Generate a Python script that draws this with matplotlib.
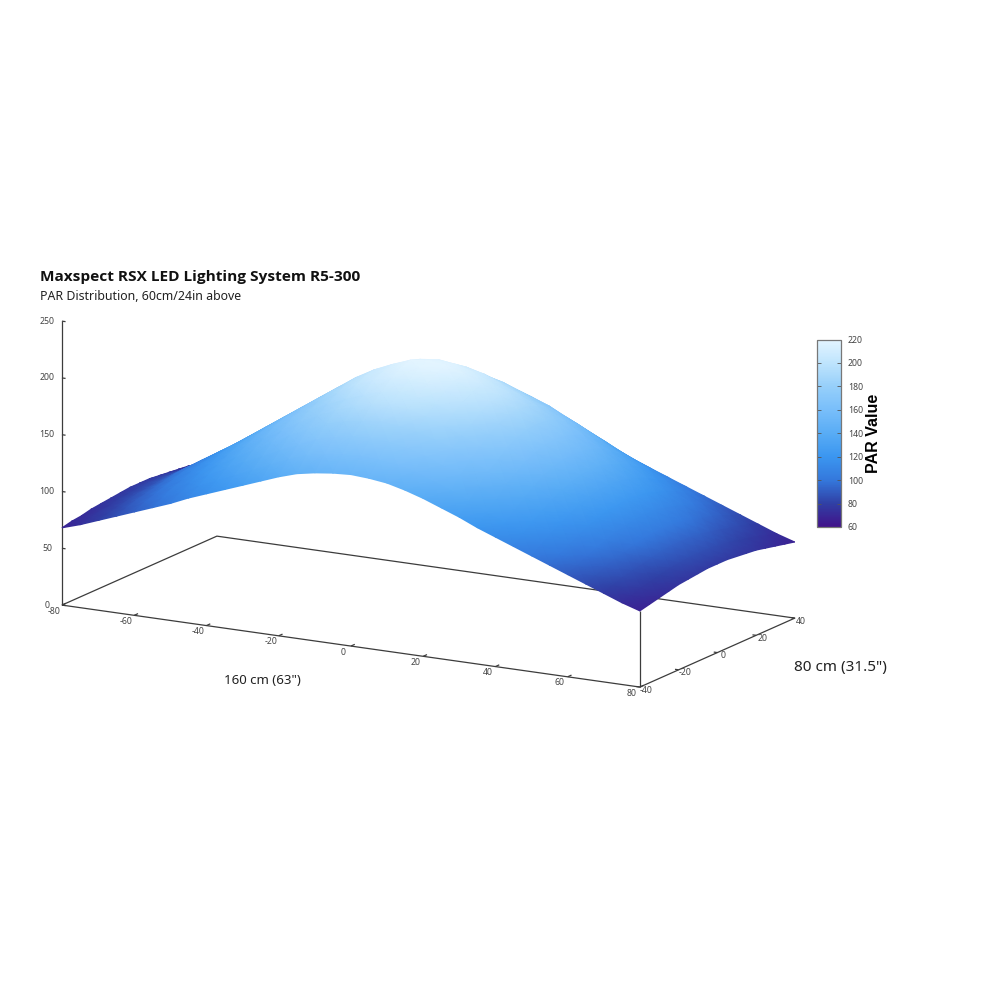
import numpy as np
import matplotlib
matplotlib.use('Agg')
import matplotlib.pyplot as plt
from matplotlib.colors import LinearSegmentedColormap
from matplotlib.cm import ScalarMappable
from matplotlib.colors import Normalize
from mpl_toolkits.mplot3d import proj3d

# PAR readings every 5 cm, the field is mirrored front to back
x_cm = [-80, -75, -70, -65, -60, -55, -50, -45, -40, -35, -30, -25, -20, -15, -10, -5, 0,
        5, 10, 15, 20, 25, 30, 35, 40, 45, 50, 55, 60, 65, 70, 75, 80]
y_cm = [40, 35, 30, 25, 20, 15, 10, 5, 0, -5, -10, -15, -20, -25, -30, -35, -40]
row_40 = [68, 73, 79, 85, 91, 97, 103, 110, 116, 122, 128, 134, 140, 145, 148, 150, 151,
          150, 148, 144, 139, 133, 127, 120, 114, 108, 102, 96, 90, 84, 78, 72, 67]
row_35 = [70, 75, 81, 88, 95, 101, 108, 116, 123, 130, 137, 144, 151, 157, 160, 162, 163,
          162, 160, 156, 150, 144, 137, 129, 122, 115, 108, 101, 94, 87, 81, 74, 69]
row_30 = [71, 77, 83, 91, 98, 106, 113, 122, 130, 138, 145, 153, 160, 167, 171, 174, 175,
          174, 171, 166, 160, 154, 146, 137, 130, 122, 114, 106, 98, 91, 84, 77, 71]
row_25 = [73, 78, 85, 93, 101, 109, 118, 127, 136, 145, 154, 162, 170, 177, 181, 184, 186,
          184, 181, 177, 171, 163, 155, 146, 137, 128, 119, 111, 102, 94, 86, 79, 73]
row_20 = [74, 80, 87, 95, 104, 113, 122, 132, 142, 151, 160, 170, 178, 185, 191, 195, 197,
          195, 191, 185, 178, 171, 162, 152, 143, 134, 124, 115, 105, 96, 88, 81, 75]
row_15 = [75, 81, 88, 97, 107, 116, 126, 136, 147, 157, 167, 177, 184, 191, 197, 202, 204,
          202, 198, 192, 185, 178, 169, 159, 149, 138, 128, 118, 108, 99, 90, 83, 76]
row_10 = [76, 82, 89, 99, 108, 118, 129, 139, 150, 161, 171, 181, 190, 199, 206, 210, 211,
          210, 206, 199, 192, 184, 174, 163, 153, 142, 131, 121, 110, 101, 92, 84, 77]
row_05 = [77, 83, 90, 100, 110, 120, 130, 141, 152, 163, 174, 185, 195, 204, 210, 216, 218,
          216, 211, 204, 197, 188, 177, 166, 155, 144, 133, 122, 112, 102, 93, 85, 78]
row_00 = [77, 83, 90, 100, 110, 120, 131, 142, 153, 164, 175, 186, 197, 206, 213, 219, 221,
          219, 214, 207, 199, 189, 178, 167, 156, 145, 134, 123, 112, 102, 93, 85, 78]
par = [row_40, row_35, row_30, row_25, row_20, row_15, row_10, row_05, row_00,
       row_05, row_10, row_15, row_20, row_25, row_30, row_35, row_40]

x_ticks = [-80, -60, -40, -20, 0, 20, 40, 60, 80]
y_ticks = [-40, -20, 0, 20, 40]
z_ticks = [0, 50, 100, 150, 200, 250]
cbar_ticks = [60, 80, 100, 120, 140, 160, 180, 200, 220]

par_colors = ['#41128a', '#3040a5', '#3478dc', '#3b96f0', '#58acf5',
              '#78befa', '#96cffa', '#bee4fd', '#e4f5ff']

plt.rcParams['font.family'] = ['Noto Sans', 'DejaVu Sans']
fig = plt.figure(figsize=(10, 10), dpi=100)
rect = [0.034, 0.136, 0.768, 0.768]

# orthographic 3d axes, only used here for its projection
ax3d = fig.add_axes(rect, projection='3d', proj_type='ortho')
ax3d.view_init(elev=14.55, azim=-60.55)
ax3d.set_box_aspect((663.8, 315.2, 293.4))
ax3d.set_xlim(-80, 80, view_margin=0)
ax3d.set_ylim(-40, 40, view_margin=0)
ax3d.set_zlim(0, 250, view_margin=0)
ax3d.set_axis_off()
M = ax3d.get_proj()

# 2d overlay so the surface can be gouraud shaded, same pane limits as Axes3D
ax = fig.add_axes(rect)
ax.set_xlim(-0.095, 0.09)
ax.set_ylim(-0.095, 0.09)
ax.set_axis_off()


def project(x, y, z):
    px, py, _ = proj3d.proj_transform(np.asarray(x, float), np.asarray(y, float),
                                      np.asarray(z, float), M)
    return px, py


def line3(xs, ys, zs, lw=0.9):
    px, py = project(xs, ys, zs)
    ax.plot(px, py, color='#3c3c3c', lw=lw, solid_capstyle='butt', zorder=1, clip_on=False)


def tick_label(x, y, z, text, dx, dy):
    px, py = project(x, y, z)
    ax.annotate(text, (float(px), float(py)), xytext=(dx, dy), textcoords='offset pixels',
                ha='center', va='center', fontsize=6.3, color='#444444', zorder=3)


# base frame and the two visible uprights
line3([-80, 80, 80, -80, -80], [-40, -40, 40, 40, -40], [0, 0, 0, 0, 0])
line3([-80, -80], [-40, -40], [0, 250])
line3([80, 80], [-40, -40], [0, 67])

for t in x_ticks:
    line3([t, t], [-40, -38], [0, 0])
    tick_label(t, -40, 0, str(t), -8, -6)
for t in y_ticks:
    line3([80, 79], [t, t], [0, 0])
    tick_label(80, t, 0, str(t), 6, -3)
for t in z_ticks:
    line3([-80, -79], [-40, -40], [t, t])
    tick_label(-80, -40, t, str(t), -15, 0)

cmap = LinearSegmentedColormap.from_list('par', par_colors)
X, Y = np.meshgrid(x_cm, y_cm)
Z = np.array(par, float)
sx, sy = project(X.ravel(), Y.ravel(), Z.ravel())
ax.pcolormesh(sx.reshape(X.shape), sy.reshape(X.shape), Z, shading='gouraud',
              cmap=cmap, vmin=60, vmax=220, zorder=2)

# colorbar
cax = fig.add_axes([0.8165, 0.473, 0.0245, 0.1875])
cb = fig.colorbar(ScalarMappable(Normalize(60, 220), cmap), cax=cax)
cb.set_ticks(cbar_ticks)
cb.ax.tick_params(direction='in', length=3, width=0.6, labelsize=6.3, pad=5,
                  color='#555555', labelcolor='#444444', right=True, left=True)
cb.outline.set_edgecolor('#777777')
cb.outline.set_linewidth(0.9)
fig.text(0.8735, 0.567, 'PAR Value', rotation=90, ha='center', va='center',
         fontsize=11.5, fontweight='bold', family='Liberation Sans')

# titles and axis captions
fig.text(0.040, 0.7225, 'Maxspect RSX LED Lighting System R5-300', ha='left', va='center',
         fontsize=11.1, fontweight='bold', family='Open Sans', color='#111111')
fig.text(0.040, 0.7035, 'PAR Distribution, 60cm/24in above', ha='left', va='center',
         fontsize=8.9, color='#222222')
fig.text(0.262, 0.319, '160 cm (63")', ha='center', va='center', fontsize=9.5, color='#222222')
fig.text(0.840, 0.332, '80 cm (31.5")', ha='center', va='center', fontsize=11, color='#222222')

fig.savefig('out.png', dpi=100)
